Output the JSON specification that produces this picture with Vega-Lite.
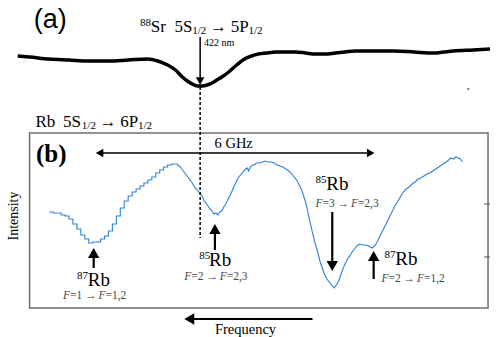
{
  "$schema": "https://vega.github.io/schema/vega-lite/v6.json",
  "width": 497,
  "height": 337,
  "padding": 0,
  "autosize": {"type": "fit", "contains": "padding"},
  "background": "white",
  "config": {"view": {"stroke": null}},
  "encoding": {
    "x": {"field": "x", "type": "quantitative", "scale": {"domain": [0, 497], "nice": false, "zero": false}, "axis": null},
    "y": {"field": "y", "type": "quantitative", "scale": {"domain": [0, 337], "nice": false, "zero": false, "reverse": true}, "axis": null}
  },
  "layer": [
    {
      "data": {"values": [{"x": 30, "x2": 495, "y": 133, "y2": 308}]},
      "mark": {"type": "rect", "fillOpacity": 0, "stroke": "#6d6d6d", "strokeWidth": 1.5},
      "encoding": {"x2": {"field": "x2"}, "y2": {"field": "y2"}}
    },
    {
      "data": {"values": [{"x": 491, "x2": 497, "y": 204}, {"x": 491, "x2": 497, "y": 257}]},
      "mark": {"type": "rule", "color": "#666", "strokeWidth": 1.2},
      "encoding": {"x2": {"field": "x2"}}
    },
    {
      "data": {"values": [
        {"x": 18, "y": 56}, {"x": 30, "y": 57}, {"x": 50, "y": 59}, {"x": 70, "y": 60}, {"x": 90, "y": 61}, {"x": 110, "y": 61}, {"x": 130, "y": 60}, {"x": 150, "y": 59}, {"x": 160, "y": 61}, {"x": 170, "y": 65}, {"x": 178, "y": 70}, {"x": 185, "y": 77}, {"x": 190, "y": 81}, {"x": 195, "y": 84}, {"x": 200, "y": 86}, {"x": 205, "y": 86}, {"x": 210, "y": 85}, {"x": 215, "y": 83}, {"x": 220, "y": 80}, {"x": 225, "y": 77}, {"x": 232, "y": 72}, {"x": 240, "y": 65}, {"x": 248, "y": 59}, {"x": 255, "y": 56}, {"x": 262, "y": 54}, {"x": 270, "y": 53}, {"x": 280, "y": 52}, {"x": 290, "y": 52}, {"x": 300, "y": 52}, {"x": 310, "y": 53}, {"x": 320, "y": 54}, {"x": 330, "y": 54}, {"x": 340, "y": 53}, {"x": 350, "y": 52}, {"x": 360, "y": 51}, {"x": 380, "y": 51}, {"x": 400, "y": 51}, {"x": 420, "y": 52}, {"x": 440, "y": 53}, {"x": 450, "y": 52}, {"x": 460, "y": 51}, {"x": 480, "y": 50}, {"x": 497, "y": 49}
      ]},
      "mark": {"type": "line", "color": "black", "strokeWidth": 3.5, "interpolate": "monotone"}
    },
    {
      "data": {"values": [{"x": 475, "y": 89}]},
      "mark": {"type": "square", "color": "#555", "size": 3, "opacity": 1}
    },
    {
      "data": {"values": [
        {"x": 50, "y": 212}, {"x": 54, "y": 213}, {"x": 58, "y": 213}, {"x": 62, "y": 215}, {"x": 66, "y": 216}, {"x": 70, "y": 219}, {"x": 74, "y": 224}, {"x": 78, "y": 229}, {"x": 82, "y": 235}, {"x": 86, "y": 239}, {"x": 90, "y": 243}, {"x": 94, "y": 242}, {"x": 98, "y": 242}, {"x": 102, "y": 239}, {"x": 106, "y": 236}, {"x": 110, "y": 231}, {"x": 114, "y": 224}, {"x": 118, "y": 216}, {"x": 122, "y": 208}, {"x": 126, "y": 201}, {"x": 130, "y": 196}, {"x": 134, "y": 192}, {"x": 138, "y": 189}, {"x": 142, "y": 186}, {"x": 146, "y": 183}, {"x": 150, "y": 180}, {"x": 154, "y": 177}, {"x": 158, "y": 173}, {"x": 162, "y": 170}, {"x": 166, "y": 167}, {"x": 170, "y": 165}, {"x": 174, "y": 164}, {"x": 178, "y": 164}, {"x": 180, "y": 165}
      ]},
      "mark": {"type": "line", "color": "#2e82d6", "strokeWidth": 1.1, "interpolate": "step-after"}
    },
    {
      "data": {"values": [
        {"x": 180, "y": 165}, {"x": 183, "y": 167}, {"x": 186, "y": 171}, {"x": 189, "y": 175}, {"x": 192, "y": 179}, {"x": 195, "y": 183}, {"x": 198, "y": 188}, {"x": 201, "y": 191}, {"x": 203, "y": 194}, {"x": 205, "y": 196}, {"x": 207, "y": 201}, {"x": 209, "y": 203}, {"x": 211, "y": 206}, {"x": 213, "y": 209}, {"x": 215, "y": 211}, {"x": 217, "y": 214}, {"x": 219, "y": 213}, {"x": 221, "y": 215}, {"x": 223, "y": 212}, {"x": 225, "y": 211}, {"x": 227, "y": 207}, {"x": 229, "y": 204}, {"x": 231, "y": 200}, {"x": 233, "y": 196}, {"x": 235, "y": 192}, {"x": 237, "y": 187}, {"x": 239, "y": 183}, {"x": 241, "y": 179}, {"x": 243, "y": 176}, {"x": 245, "y": 174}, {"x": 247, "y": 171}, {"x": 249, "y": 169}, {"x": 251, "y": 168}, {"x": 252, "y": 171}, {"x": 254, "y": 167}, {"x": 256, "y": 165}, {"x": 258, "y": 165}, {"x": 260, "y": 163}, {"x": 263, "y": 163}, {"x": 266, "y": 162}, {"x": 269, "y": 161}, {"x": 272, "y": 162}, {"x": 275, "y": 162}, {"x": 278, "y": 163}, {"x": 281, "y": 165}, {"x": 284, "y": 166}, {"x": 287, "y": 167}, {"x": 290, "y": 169}, {"x": 293, "y": 171}, {"x": 296, "y": 174}, {"x": 299, "y": 178}, {"x": 301, "y": 180}, {"x": 303, "y": 184}, {"x": 305, "y": 188}, {"x": 307, "y": 193}, {"x": 309, "y": 199}, {"x": 311, "y": 206}, {"x": 313, "y": 216}, {"x": 315, "y": 224}, {"x": 317, "y": 233}, {"x": 319, "y": 241}, {"x": 321, "y": 248}, {"x": 323, "y": 255}, {"x": 325, "y": 263}, {"x": 327, "y": 268}, {"x": 329, "y": 274}, {"x": 331, "y": 278}, {"x": 333, "y": 281}, {"x": 335, "y": 283}, {"x": 337, "y": 286}, {"x": 339, "y": 288}, {"x": 341, "y": 285}, {"x": 343, "y": 282}, {"x": 345, "y": 277}, {"x": 347, "y": 271}, {"x": 349, "y": 266}, {"x": 351, "y": 262}, {"x": 353, "y": 258}, {"x": 355, "y": 256}, {"x": 357, "y": 252}, {"x": 359, "y": 250}, {"x": 361, "y": 247}, {"x": 363, "y": 245}, {"x": 365, "y": 244}, {"x": 368, "y": 245}, {"x": 371, "y": 245}, {"x": 374, "y": 246}, {"x": 377, "y": 248}, {"x": 380, "y": 246}, {"x": 382, "y": 243}, {"x": 384, "y": 239}, {"x": 386, "y": 235}, {"x": 388, "y": 231}, {"x": 390, "y": 227}, {"x": 392, "y": 223}, {"x": 394, "y": 219}, {"x": 396, "y": 215}, {"x": 398, "y": 211}, {"x": 400, "y": 207}, {"x": 403, "y": 202}, {"x": 406, "y": 197}, {"x": 409, "y": 192}, {"x": 412, "y": 189}, {"x": 415, "y": 187}, {"x": 418, "y": 184}, {"x": 421, "y": 182}, {"x": 424, "y": 179}, {"x": 427, "y": 178}, {"x": 430, "y": 176}, {"x": 433, "y": 174}, {"x": 436, "y": 173}, {"x": 439, "y": 171}, {"x": 442, "y": 169}, {"x": 445, "y": 167}, {"x": 448, "y": 165}, {"x": 451, "y": 163}, {"x": 454, "y": 161}, {"x": 457, "y": 158}, {"x": 460, "y": 159}, {"x": 462, "y": 157}, {"x": 465, "y": 158}, {"x": 467, "y": 159}, {"x": 469, "y": 162}
      ]},
      "mark": {"type": "line", "color": "#2e82d6", "strokeWidth": 1.1}
    },
    {
      "data": {"values": [{"x": 203, "y": 87, "y2": 238}]},
      "mark": {"type": "rule", "color": "black", "strokeWidth": 1.5, "strokeDash": [3, 2]},
      "encoding": {"y2": {"field": "y2"}}
    },
    {
      "data": {"values": [{"x": 203, "y": 37, "y2": 80}]},
      "mark": {"type": "rule", "color": "black", "strokeWidth": 1.5},
      "encoding": {"y2": {"field": "y2"}}
    },
    {
      "data": {"values": [{"x": 337, "y": 212, "y2": 262}, {"x": 95, "y": 268, "y2": 256}, {"x": 218, "y": 250, "y2": 232}, {"x": 379, "y": 279, "y2": 259}]},
      "mark": {"type": "rule", "color": "black", "strokeWidth": 2.2},
      "encoding": {"y2": {"field": "y2"}}
    },
    {
      "data": {"values": [{"x": 101, "x2": 376, "y": 153}]},
      "mark": {"type": "rule", "color": "black", "strokeWidth": 1.5},
      "encoding": {"x2": {"field": "x2"}}
    },
    {
      "data": {"values": [{"x": 192, "x2": 317, "y": 319}]},
      "mark": {"type": "rule", "color": "black", "strokeWidth": 2},
      "encoding": {"x2": {"field": "x2"}}
    },
    {
      "data": {"values": [{"x": 203, "y": 81, "dir": "down"}, {"x": 101, "y": 153, "dir": "left"}, {"x": 376, "y": 153, "dir": "right"}]},
      "mark": {"type": "point", "filled": true, "color": "black", "opacity": 1, "size": 75},
      "encoding": {"shape": {"field": "dir", "type": "nominal", "scale": {"domain": ["down", "up", "left", "right"], "range": ["triangle-down", "triangle-up", "triangle-left", "triangle-right"]}, "legend": null}}
    },
    {
      "data": {"values": [{"x": 337, "y": 266, "dir": "down"}, {"x": 95, "y": 253, "dir": "up"}, {"x": 218, "y": 229, "dir": "up"}, {"x": 379, "y": 256, "dir": "up"}, {"x": 192, "y": 319, "dir": "left"}]},
      "mark": {"type": "point", "filled": true, "color": "black", "opacity": 1, "size": 130},
      "encoding": {"shape": {"field": "dir", "type": "nominal", "scale": {"domain": ["down", "up", "left", "right"], "range": ["triangle-down", "triangle-up", "triangle-left", "triangle-right"]}, "legend": null}}
    },
    {
      "data": {"values": [{"x": 51, "y": 28, "t": "(a)"}]},
      "mark": {"type": "text", "font": "Liberation Sans", "fontSize": 27, "align": "center", "baseline": "alphabetic", "color": "black"},
      "encoding": {"text": {"field": "t"}}
    },
    {
      "data": {"values": [{"x": 52, "y": 162, "t": "(b)"}]},
      "mark": {"type": "text", "font": "Liberation Serif", "fontSize": 25, "fontWeight": "bold", "align": "center", "baseline": "alphabetic", "color": "black"},
      "encoding": {"text": {"field": "t"}}
    },
    {
      "data": {"values": [
        {"x": 153, "y": 32, "t": "Sr"}, {"x": 177, "y": 32, "t": "5S"}, {"x": 213, "y": 32, "t": "→"}, {"x": 234, "y": 32, "t": "5P"},
        {"x": 36, "y": 127, "t": "Rb"}, {"x": 64, "y": 127, "t": "5S"}, {"x": 101, "y": 127, "t": "→"}, {"x": 122, "y": 127, "t": "6P"}
      ]},
      "mark": {"type": "text", "font": "Liberation Serif", "fontSize": 17, "align": "left", "baseline": "alphabetic", "color": "black"},
      "encoding": {"text": {"field": "t"}}
    },
    {
      "data": {"values": [
        {"x": 195, "y": 34, "t": "1/2"}, {"x": 252, "y": 34, "t": "1/2"},
        {"x": 83, "y": 129, "t": "1/2"}, {"x": 140, "y": 129, "t": "1/2"},
        {"x": 142, "y": 26, "t": "88"}
      ]},
      "mark": {"type": "text", "font": "Liberation Serif", "fontSize": 11, "align": "left", "baseline": "alphabetic", "color": "black"},
      "encoding": {"text": {"field": "t"}}
    },
    {
      "data": {"values": [{"x": 207, "y": 46, "t": "422 nm"}]},
      "mark": {"type": "text", "font": "Liberation Serif", "fontSize": 10, "align": "left", "baseline": "alphabetic", "color": "black"},
      "encoding": {"text": {"field": "t"}}
    },
    {
      "data": {"values": [{"x": 237, "y": 148, "t": "6 GHz"}, {"x": 249, "y": 334, "t": "Frequency"}]},
      "mark": {"type": "text", "font": "Liberation Serif", "fontSize": 14.5, "align": "center", "baseline": "alphabetic", "color": "black"},
      "encoding": {"text": {"field": "t"}}
    },
    {
      "data": {"values": [{"x": 14, "y": 216, "t": "Intensity"}]},
      "mark": {"type": "text", "font": "Liberation Serif", "fontSize": 14, "align": "center", "baseline": "middle", "angle": 270, "color": "black"},
      "encoding": {"text": {"field": "t"}}
    },
    {
      "data": {"values": [
        {"x": 89, "y": 286, "t": "Rb"}, {"x": 212, "y": 266, "t": "Rb"}, {"x": 331, "y": 190, "t": "Rb"}, {"x": 401, "y": 265, "t": "Rb"}
      ]},
      "mark": {"type": "text", "font": "Liberation Serif", "fontSize": 19, "align": "left", "baseline": "alphabetic", "color": "black"},
      "encoding": {"text": {"field": "t"}}
    },
    {
      "data": {"values": [
        {"x": 78, "y": 279, "t": "87"}, {"x": 202, "y": 259, "t": "85"}, {"x": 320, "y": 183, "t": "85"}, {"x": 390, "y": 258, "t": "87"}
      ]},
      "mark": {"type": "text", "font": "Liberation Serif", "fontSize": 11, "align": "left", "baseline": "alphabetic", "color": "black"},
      "encoding": {"text": {"field": "t"}}
    },
    {
      "data": {"values": [
        {"x": 64, "y": 299, "t": "F"}, {"x": 100, "y": 299, "t": "F"},
        {"x": 187, "y": 280, "t": "F"}, {"x": 223, "y": 280, "t": "F"},
        {"x": 320, "y": 207, "t": "F"}, {"x": 356, "y": 207, "t": "F"},
        {"x": 387, "y": 282, "t": "F"}, {"x": 423, "y": 282, "t": "F"}
      ]},
      "mark": {"type": "text", "font": "Liberation Serif", "fontSize": 11.5, "fontStyle": "italic", "align": "left", "baseline": "alphabetic", "color": "#444"},
      "encoding": {"text": {"field": "t"}}
    },
    {
      "data": {"values": [
        {"x": 71, "y": 299, "t": "=1 → "}, {"x": 107, "y": 299, "t": "=1,2"},
        {"x": 194, "y": 280, "t": "=2 → "}, {"x": 230, "y": 280, "t": "=2,3"},
        {"x": 327, "y": 207, "t": "=3 → "}, {"x": 363, "y": 207, "t": "=2,3"},
        {"x": 394, "y": 282, "t": "=2 → "}, {"x": 430, "y": 282, "t": "=1,2"}
      ]},
      "mark": {"type": "text", "font": "Liberation Serif", "fontSize": 11.5, "align": "left", "baseline": "alphabetic", "color": "#444"},
      "encoding": {"text": {"field": "t"}}
    }
  ]
}
